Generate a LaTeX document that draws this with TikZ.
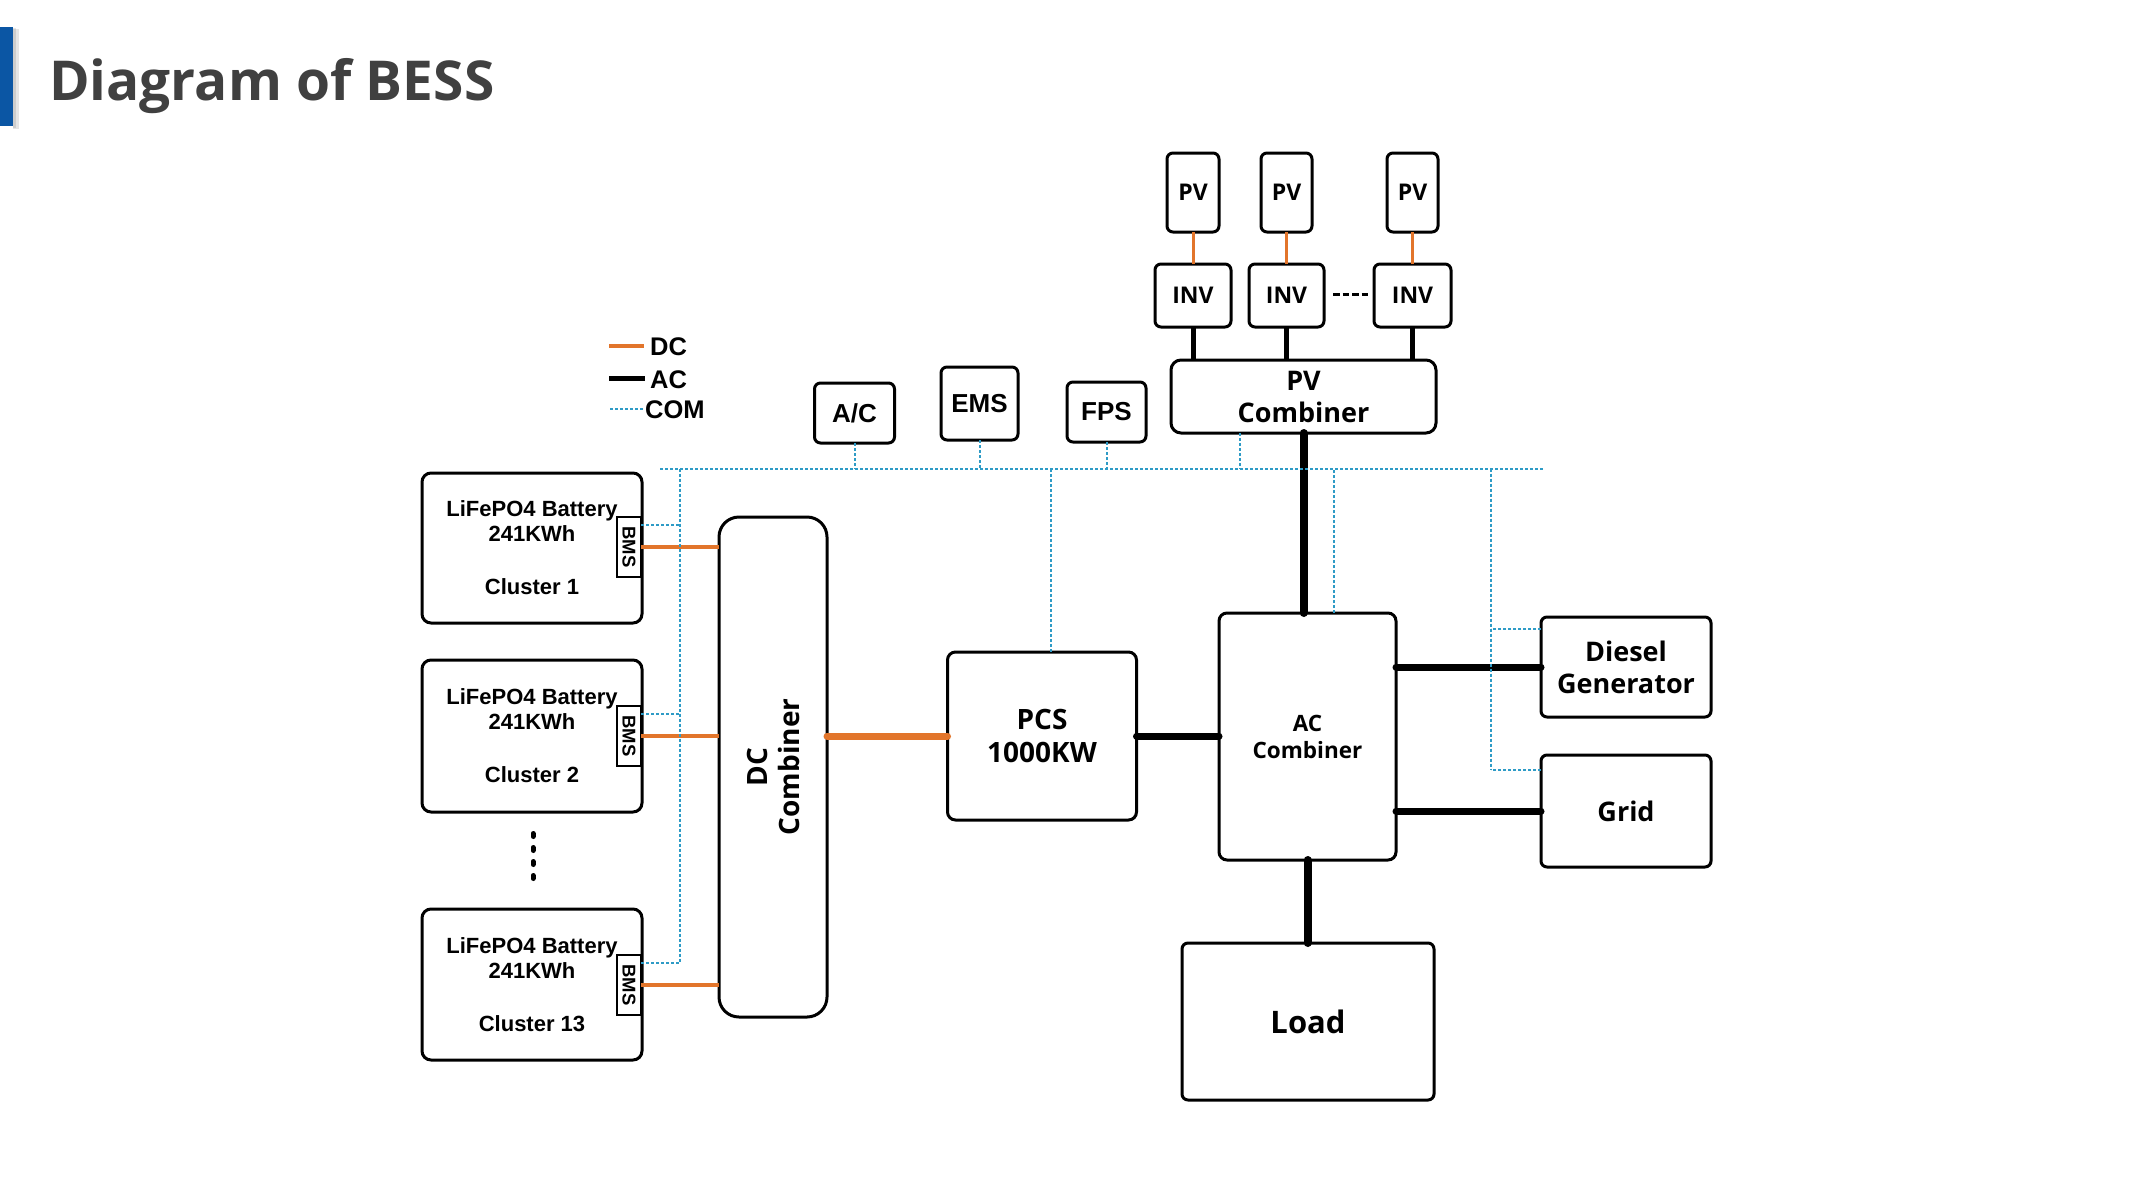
\documentclass[tikz,border=0pt]{standalone}
\usepackage{fontspec}
\setmainfont{Liberation Sans}
\newfontfamily\osfont{Open Sans}
\usetikzlibrary{calc}
\definecolor{dcorange}{HTML}{E2752B}
\definecolor{comblue}{HTML}{2E9BC6}
\definecolor{barblue}{HTML}{0B56A4}
\definecolor{titlegray}{HTML}{404040}
\newcommand{\myosf}[2]{\osfont\bfseries\fontsize{#1}{#2}\selectfont}
\newcommand{\mylsf}[2]{\rmfamily\bfseries\fontsize{#1}{#2}\selectfont}
\begin{document}
\begin{tikzpicture}[x=1pt,y=-1pt,
  box/.style={draw=black, line width=3pt, rounded corners=6pt, fill=white,
    inner sep=0pt, outer sep=0pt, align=center},
  dcline/.style={draw=dcorange, line width=#1, line cap=round},
  acline/.style={draw=black, line width=#1, line cap=round},
  com/.style={draw=comblue, line width=2pt, dash pattern=on 3pt off 2pt},
  bmsbox/.style={box, rounded corners=0pt, line width=2.5pt, minimum width=24pt, minimum height=60pt},
  battery/.style={box, rounded corners=9pt, minimum width=220pt, font={\mylsf{22}{25}}},
  pvbox/.style={box, minimum height=79pt, font={\myosf{23}{27}}},
  invbox/.style={box, minimum height=63pt, font={\myosf{23}{27}}},
  auxbox/.style={box, font={\mylsf{26}{30}}},
  legtext/.style={anchor=west, inner sep=0pt, font={\mylsf{25.5}{28}}}
]
\useasboundingbox (0,0) rectangle (2133,1200);
\fill[white] (0,0) rectangle (2133,1200);

% title
\fill[black, opacity=0.10] (13,29) rectangle (19,129);
\fill[black, opacity=0.10] (13,28) rectangle (16,128);
\fill[barblue] (0,27) rectangle (13,126);
\node[anchor=base west, inner sep=0pt, text=titlegray, font={\myosf{55}{60}}] (title) at (49,100) {Diagram of BESS};

% legend
\draw[dcline=3.5pt, line cap=butt] (609,346) -- (644,346);
\draw[acline=5pt, line cap=butt] (609,378) -- (645,378);
\draw[com] (610,409) -- (643,409);
\node[legtext] (lgdc) at (650,347) {DC};
\node[legtext] (lgac) at (650,380) {AC};
\node[legtext] (lgcom) at (645,410) {COM};

% batteries
\node[battery, minimum height=150pt] (bat1) at (532,548) {LiFePO4 Battery\\241KWh\\[28pt]Cluster 1};
\node[battery, minimum height=152pt] (bat2) at (532,736) {LiFePO4 Battery\\241KWh\\[28pt]Cluster 2};
\node[battery, minimum height=151pt] (bat3) at (532,984.5) {LiFePO4 Battery\\241KWh\\[28pt]Cluster 13};
\node[bmsbox] (bms1) at (629,547) {};
\node[bmsbox] (bms2) at (629,736) {};
\node[bmsbox] (bms3) at (629,985) {};
\node[rotate=-90, inner sep=0pt, font={\mylsf{18.5}{20}}] (bms1t) at (bms1) {BMS};
\node[rotate=-90, inner sep=0pt, font={\mylsf{18.5}{20}}] (bms2t) at (bms2) {BMS};
\node[rotate=-90, inner sep=0pt, font={\mylsf{18.5}{20}}] (bms3t) at (bms3) {BMS};
\draw[line width=5pt, line cap=round, dash pattern=on 3pt off 11pt] (533,833.5) -- (533,880);

% DC combiner
\node[box, rounded corners=20pt, minimum width=108pt, minimum height=500pt] (dc) at (773,767) {};
\node[rotate=90, align=center, inner sep=0pt, font={\myosf{28}{32}}] (dct) at (dc) {DC\\Combiner};

% main boxes
\node[box, rounded corners=8pt, minimum width=189pt, minimum height=168pt, font={\myosf{28}{33}}] (pcs) at (1042,736) {PCS\\1000KW};
\node[box, rounded corners=8pt, minimum width=177pt, minimum height=247pt, font={\myosf{22.5}{27}}] (acc) at (1307.5,736.5) {AC\\Combiner};
\node[box, minimum width=170pt, minimum height=100pt, font={\myosf{27}{32}}] (dg) at (1626,667) {Diesel\\Generator};
\node[box, minimum width=170pt, minimum height=112pt, font={\myosf{27}{32}}] (grid) at (1626,811) {Grid};
\node[box, minimum width=252pt, minimum height=157pt, font={\myosf{31}{36}}] (load) at (1308,1021.5) {Load};
\node[box, rounded corners=10pt, minimum width=265pt, minimum height=73pt, font={\myosf{27}{32}}] (pvc) at (1303.5,396.5) {PV\\Combiner};

% aux boxes
\node[auxbox, minimum width=80pt, minimum height=60pt] (acu) at (854.5,413) {A/C};
\node[auxbox, minimum width=77pt, minimum height=73pt] (ems) at (979.5,403.5) {EMS};
\node[auxbox, minimum width=79pt, minimum height=60pt] (fps) at (1106.5,412) {FPS};

% PV and inverters
\node[pvbox, minimum width=52pt] (pv1) at (1193,192.5) {PV};
\node[pvbox, minimum width=51pt] (pv2) at (1286.5,192.5) {PV};
\node[pvbox, minimum width=51pt] (pv3) at (1412.5,192.5) {PV};
\node[invbox, minimum width=76pt] (inv1) at (1193,295.5) {INV};
\node[invbox, minimum width=75pt] (inv2) at (1286.5,295.5) {INV};
\node[invbox, minimum width=77pt] (inv3) at (1412.5,295.5) {INV};
\draw[line width=3pt, dash pattern=on 6.5pt off 3pt] ($(inv2.east)+(9,-1.5)$) -- ($(inv3.west)+(-6,-1.5)$);

% DC connectors
\draw[dcline=3pt, line cap=butt] (pv1) -- (inv1);
\draw[dcline=3pt, line cap=butt] (pv2) -- (inv2);
\draw[dcline=3pt, line cap=butt] (pv3) -- (inv3);
\draw[dcline=4.5pt, line cap=butt] (bms1.east) -- (bms1.east -| dc.west);
\draw[dcline=4.5pt, line cap=butt] (bms2.east) -- (bms2.east -| dc.west);
\draw[dcline=4.5pt, line cap=butt] (bms3.east) -- (bms3.east -| dc.west);
\draw[dcline=7pt] (pcs.west -| dc.east) -- (pcs.west);

% AC connectors
\draw[acline=5pt, line cap=butt] (inv1.south) -- (inv1.south |- pvc.north);
\draw[acline=5pt, line cap=butt] (inv2.south) -- (inv2.south |- pvc.north);
\draw[acline=5pt, line cap=butt] (inv3.south) -- (inv3.south |- pvc.north);
\draw[acline=8pt] (pvc.south) -- (pvc.south |- acc.north);
\draw[acline=8pt] (acc.south) -- (acc.south |- load.north);
\draw[acline=7pt] (pcs.east) -- (pcs.east -| acc.west);
\draw[acline=7pt] (dg.west -| acc.east) -- (dg.west);
\draw[acline=7pt] (grid.west -| acc.east) -- (grid.west);

% COM bus
\coordinate (busL) at (660,468.5);
\coordinate (busR) at (1543,468.5);
\coordinate (comV) at (680,468.5);
\coordinate (comR) at (1491,468.5);
\draw[com] (busL) -- (busR);
\draw[com] (acu.south) -- (acu.south |- busL);
\draw[com] (ems.south) -- (ems.south |- busL);
\draw[com] (fps.south) -- (fps.south |- busL);
\draw[com] ($(pvc.south)+(-63.5,0)$) coordinate (pvcc) -- (pvcc |- busL);
\draw[com] ($(pcs.north)+(9,0)$) coordinate (pcsc) -- (pcsc |- busL);
\draw[com] ($(acc.north)+(26.5,0)$) coordinate (accc) -- (accc |- busL);
\draw[com] ($(bms1.north east)+(0,8)$) coordinate (b1c) -- (b1c -| comV);
\draw[com] ($(bms2.north east)+(0,8)$) coordinate (b2c) -- (b2c -| comV);
\draw[com] ($(bms3.north east)+(0,8)$) coordinate (b3c) -- (b3c -| comV);
\draw[com] (comV) -- (comV |- b3c);
\draw[com] ($(dg.north west)+(0,12)$) coordinate (dgc) -- (dgc -| comR);
\draw[com] ($(grid.north west)+(0,15)$) coordinate (grc) -- (grc -| comR);
\draw[com] (comR) -- (comR |- grc);
\end{tikzpicture}
\end{document}
